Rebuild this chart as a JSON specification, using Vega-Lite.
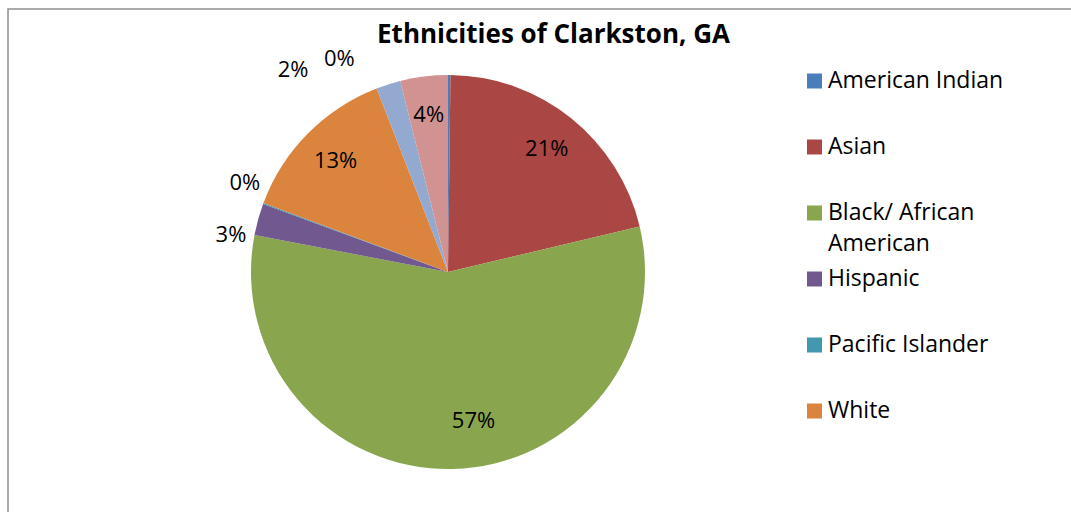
{
  "$schema": "https://vega.github.io/schema/vega-lite/v6.json",
  "autosize": "none",
  "width": 1065,
  "height": 505,
  "padding": {"left": 8, "top": 9, "right": -2, "bottom": -2},
  "background": "white",
  "view": {"stroke": "#8E8E8E", "strokeWidth": 1.5},
  "title": {
    "text": "Ethnicities of Clarkston, GA",
    "anchor": "middle",
    "frame": "group",
    "font": "Open Sans",
    "fontSize": 26,
    "fontWeight": "bold",
    "color": "black",
    "baseline": "alphabetic",
    "offset": -34,
    "dy": 29,
    "dx": 13
  },
  "layer": [
    {
      "data": {"values": [{}]},
      "mark": {"type": "point", "opacity": 0},
      "encoding": {
        "x": {"datum": 0, "type": "quantitative", "axis": null},
        "y": {"datum": 0, "type": "quantitative", "axis": null}
      }
    },
    {
      "data": {"name": "eth"},
      "layer": [
        {"mark": {"type": "arc", "x": 440, "y": 263, "radius": 197}},
        {
          "mark": {"type": "text", "x": 440, "y": 263, "radius": 158, "font": "Open Sans", "fontSize": 22},
          "encoding": {
            "color": {"value": "black"},
            "text": {"condition": {"test": "datum.cat === 'Asian' || datum.cat === 'White' || datum.cat === 'Other'", "field": "value", "type": "quantitative", "format": ".0%"}, "value": ""}
          }
        },
        {
          "mark": {"type": "text", "x": 440, "y": 263, "radius": 158, "dx": 22, "dy": -9, "font": "Open Sans", "fontSize": 22},
          "encoding": {
            "color": {"value": "black"},
            "text": {"condition": {"test": "datum.cat === 'Black/ African American'", "field": "value", "type": "quantitative", "format": ".0%"}, "value": ""}
          }
        },
        {
          "mark": {"type": "text", "x": 440, "y": 263, "radius": 219, "dx": -6, "dy": 21, "font": "Open Sans", "fontSize": 22},
          "encoding": {
            "color": {"value": "black"},
            "text": {"condition": {"test": "datum.cat === 'Hispanic'", "field": "value", "type": "quantitative", "format": ".0%"}, "value": ""}
          }
        },
        {
          "mark": {"type": "text", "x": 440, "y": 263, "radius": 221, "dx": 4, "dy": -12, "font": "Open Sans", "fontSize": 22},
          "encoding": {
            "color": {"value": "black"},
            "text": {"condition": {"test": "datum.cat === 'Pacific Islander'", "field": "value", "type": "quantitative", "format": ".0%"}, "value": ""}
          }
        },
        {
          "mark": {"type": "text", "x": 440, "y": 263, "radius": 221, "dx": -110, "dy": 8, "font": "Open Sans", "fontSize": 22},
          "encoding": {
            "color": {"value": "black"},
            "text": {"condition": {"test": "datum.cat === 'American Indian'", "field": "value", "type": "quantitative", "format": ".0%"}, "value": ""}
          }
        },
        {
          "mark": {"type": "text", "x": 440, "y": 263, "radius": 221, "dx": -88, "dy": 9, "font": "Open Sans", "fontSize": 22},
          "encoding": {
            "color": {"value": "black"},
            "text": {"condition": {"test": "datum.cat === 'Two or More Races'", "field": "value", "type": "quantitative", "format": ".0%"}, "value": ""}
          }
        }
      ],
      "encoding": {
        "theta": {"field": "value", "type": "quantitative", "stack": true},
        "order": {"field": "idx", "type": "quantitative"},
        "color": {
          "field": "cat",
          "type": "nominal",
          "scale": {
            "domain": ["American Indian", "Asian", "Black/ African American", "Hispanic", "Pacific Islander", "White", "Two or More Races", "Other"],
            "range": ["#4A7EBB", "#AA4644", "#89A54E", "#71588F", "#4198AF", "#DB843D", "#93A9CF", "#D19392"]
          },
          "legend": {
            "title": null,
            "orient": "none",
            "legendX": 795,
            "legendY": 60.5,
            "padding": 0,
            "values": ["American Indian", "Asian", "Black/ African American", "Hispanic", "Pacific Islander", "White"],
            "symbolType": "square",
            "symbolSize": 225,
            "symbolStrokeWidth": 0,
            "symbolOpacity": 1,
            "labelFont": "Open Sans",
            "labelFontSize": 23,
            "labelColor": "black",
            "labelLimit": 400,
            "labelOffset": 2,
            "rowPadding": 11,
            "labelExpr": "datum.label == 'Black/ African American' ? ['Black/ African', 'American'] : [datum.label, ' ']"
          }
        }
      }
    }
  ],
  "datasets": {
    "eth": [
      {"cat": "American Indian", "value": 0.002, "idx": 1},
      {"cat": "Asian", "value": 0.211, "idx": 2},
      {"cat": "Black/ African American", "value": 0.567, "idx": 3},
      {"cat": "Hispanic", "value": 0.026, "idx": 4},
      {"cat": "Pacific Islander", "value": 0.001, "idx": 5},
      {"cat": "White", "value": 0.134, "idx": 6},
      {"cat": "Two or More Races", "value": 0.020, "idx": 7},
      {"cat": "Other", "value": 0.039, "idx": 8}
    ]
  },
  "config": {
    "view": {"stroke": "#8E8E8E", "strokeWidth": 1.5},
    "style": {"guide-label": {"lineHeight": 31}}
  }
}
